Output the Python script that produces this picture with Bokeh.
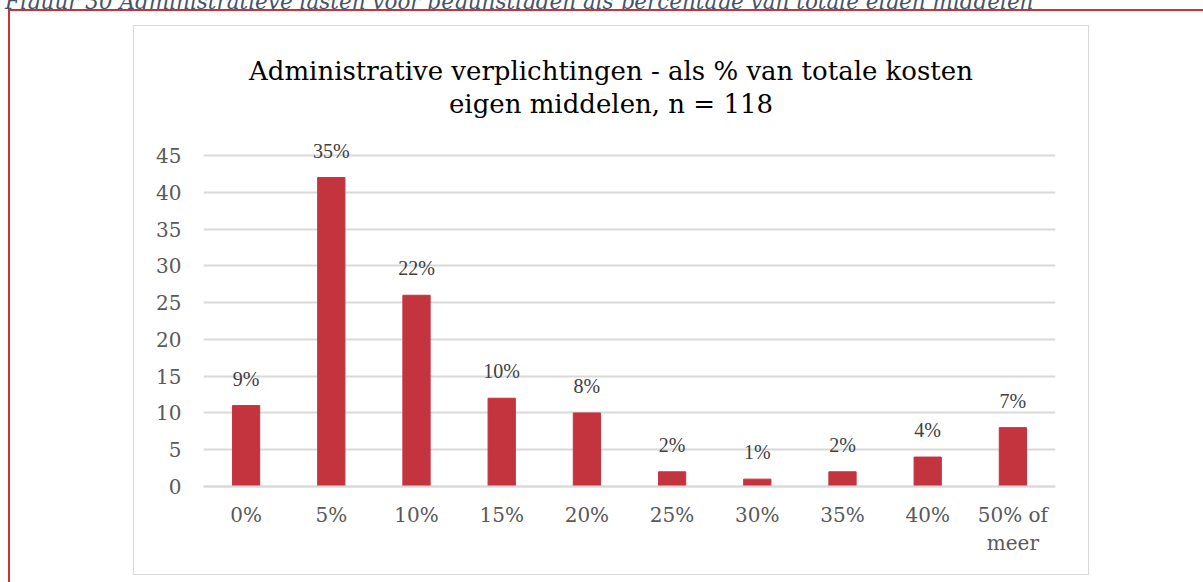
from bokeh.plotting import figure
from bokeh.models import (FactorRange, Range1d, ColumnDataSource, LabelSet,
                          Span, FixedTicker, Div, Column)
from bokeh.embed import file_html
from bokeh.resources import INLINE

# ---- data ----
categories = ["0%", "5%", "10%", "15%", "20%", "25%", "30%", "35%", "40%", "50% of\nmeer"]
counts = [11, 42, 26, 12, 10, 2, 1, 2, 4, 8]
pct_labels = ["9%", "35%", "22%", "10%", "8%", "2%", "1%", "2%", "4%", "7%"]
y_ticks = [0, 5, 10, 15, 20, 25, 30, 35, 40, 45]

title_line1 = "Administrative verplichtingen  - als % van totale kosten"
title_line2 = "eigen middelen,  n = 118"
caption = "Figuur 30 Administratieve lasten voor begunstigden als percentage van totale eigen middelen"

SERIF = "DejaVu Serif"
BAR = "#C3343F"
GRID = "#D9D9D9"
RED = "#C0353F"

# chart box (figure) geometry in page pixels
CAP_H = 20
BOX_L, BOX_T, BOX_W, BOX_H = 134, 26, 954, 548
FR_L, FR_R, FR_T, FR_B = 203, 1055, 140, 488
PX_PER_UNIT = (486 - 155) / 45.0
Y0 = -(FR_B - 486) / PX_PER_UNIT
Y1 = 45 + (155 - FR_T) / PX_PER_UNIT

p = figure(x_range=FactorRange(*categories, range_padding=0),
           y_range=Range1d(Y0, Y1),
           width=BOX_W, height=BOX_H, output_backend="svg", toolbar_location=None,
           min_border_left=FR_L - BOX_L, min_border_right=BOX_L + BOX_W - FR_R,
           min_border_top=FR_T - BOX_T, min_border_bottom=BOX_T + BOX_H - FR_B,
           title=None, margin=0,
           styles={
               "position": "relative", "left": f"{BOX_L}px", "top": f"{BOX_T - CAP_H}px",
               "box-shadow": (f"0 0 0 1px {GRID}, "
                              "176px 285px 0 300px #ffffff, "
                              f"174px 283px 0 300px {RED}"),
           })
p.outline_line_color = None
p.background_fill_color = "white"
p.border_fill_color = "white"

src = ColumnDataSource(dict(cat=categories, n=counts, lab=pct_labels))
p.vbar(x="cat", top="n", width=0.32, bottom=0, color=BAR, source=src)

# grid / axes
p.xgrid.visible = False
p.ygrid.ticker = FixedTicker(ticks=y_ticks)
p.ygrid.grid_line_color = GRID
p.ygrid.grid_line_width = 2
p.yaxis.ticker = FixedTicker(ticks=y_ticks)
for ax in (p.xaxis[0], p.yaxis[0]):
    ax.axis_line_color = None
    ax.major_tick_line_color = None
    ax.minor_tick_line_color = None
    ax.major_tick_out = 0
    ax.major_tick_in = 0
    ax.major_label_text_font = SERIF
    ax.major_label_text_color = "#595959"
    ax.major_label_text_font_size = "20px"
p.yaxis.major_label_standoff = 22
p.xaxis.major_label_standoff = 14
p.add_layout(Span(location=0, dimension="width", line_color=GRID, line_width=2, level="overlay"))

# data labels
p.add_layout(LabelSet(x="cat", y="n", text="lab", source=src, y_offset=20,
                      text_align="center", text_baseline="alphabetic",
                      text_font=SERIF, text_font_size="20px", text_color="#404040"))

cap = Div(text=caption, width=1150, height=CAP_H, margin=0,
          styles={"font-family": SERIF, "font-style": "italic", "font-size": "21.5px",
                  "color": "#44546A", "white-space": "nowrap", "line-height": "20px",
                  "position": "relative", "top": "-8px", "left": "5px"})

title = Div(text=f"{title_line1}<br>{title_line2}", width=BOX_W, height=70, margin=0,
            styles={"font-family": SERIF, "font-size": "26px", "color": "#000000",
                    "text-align": "center", "line-height": "33px", "white-space": "nowrap",
                    "position": "relative", "left": f"{BOX_L}px",
                    "top": f"{55 - (CAP_H + BOX_H)}px", "z-index": "5"})

root = Column(children=[cap, p, title], spacing=0)

open("out.html", "w").write(file_html(root, INLINE))
